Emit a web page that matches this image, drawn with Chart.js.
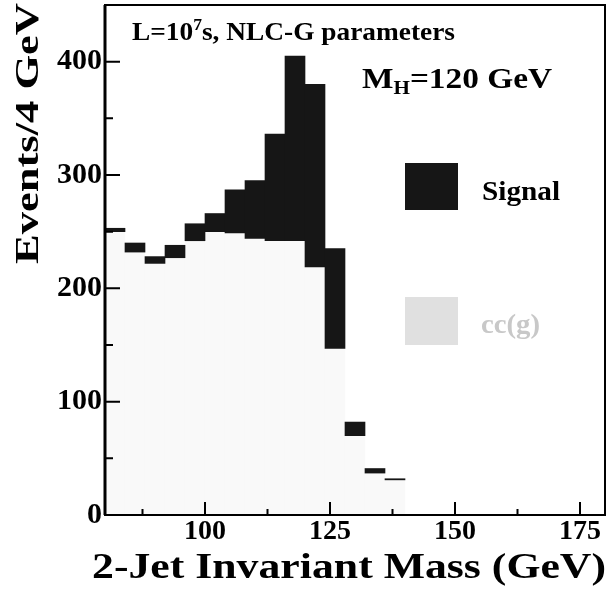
<!DOCTYPE html>
<html>
<head>
<meta charset="utf-8">
<script src="https://cdn.jsdelivr.net/npm/chart.js@4.4.1/dist/chart.umd.min.js"></script>
<style>
    html, body { margin: 0; padding: 0; background: #fff; }
    #wrap { width: 608px; height: 595px; }
</style>
</head>
<body>
<div id="wrap"><canvas id="massChart"></canvas></div>
<script>
// 4 GeV bins, centres in GeV
const bin_centres = [82, 86, 90, 94, 98, 102, 106, 110, 114, 118, 122, 126, 130, 134, 138];
const ccg_counts = [250, 232, 222, 227, 242, 250, 249, 244, 242, 242, 219, 147, 70, 37, 31];
const signal_counts = [3, 8, 6, 11, 15, 16, 38, 51, 94, 163, 161, 88, 12, 4, 1];
const x_major = [100, 125, 150, 175];
const x_minor = [87.5, 112.5, 137.5, 162.5];
const y_major = [0, 100, 200, 300, 400];
const y_minor = [50, 150, 250, 350];

const serif = "'Liberation Serif', 'DejaVu Serif', serif";

// draws a run of text pieces squeezed/stretched to a given width
function draw_fitted(ctx, parts, x, y, width, color) {
    let total = 0;
    parts.forEach(p => { ctx.font = p.font; p.w = ctx.measureText(p.t).width; total += p.w; });
    let sx = width / total;
    ctx.save();
    ctx.translate(x, y);
    ctx.scale(sx, 1);
    ctx.fillStyle = color;
    ctx.textBaseline = 'alphabetic';
    ctx.textAlign = 'left';
    let cx = 0;
    parts.forEach(p => { ctx.font = p.font; ctx.fillText(p.t, cx, p.dy || 0); cx += p.w; });
    ctx.restore();
}

const framePlugin = {
    id: 'frame',
    afterDraw(chart) {
        const ctx = chart.ctx;
        const a = chart.chartArea;
        const xs = chart.scales.x, ys = chart.scales.y;
        ctx.save();
        ctx.strokeStyle = '#000';
        // frame
        ctx.lineWidth = 2;
        ctx.strokeRect(a.left, a.top, a.right - a.left, a.bottom - a.top);
        ctx.lineWidth = 3;
        ctx.beginPath();
        ctx.moveTo(a.left, a.top);
        ctx.lineTo(a.left, a.bottom);
        ctx.stroke();
        // inward ticks
        ctx.lineWidth = 2;
        ctx.beginPath();
        y_major.forEach(v => { let p = ys.getPixelForValue(v); ctx.moveTo(a.left, p); ctx.lineTo(a.left + 15, p); });
        y_minor.forEach(v => { let p = ys.getPixelForValue(v); ctx.moveTo(a.left, p); ctx.lineTo(a.left + 8, p); });
        x_major.forEach(v => { let p = xs.getPixelForValue(v); ctx.moveTo(p, a.bottom); ctx.lineTo(p, a.bottom - 13); });
        x_minor.forEach(v => { let p = xs.getPixelForValue(v); ctx.moveTo(p, a.bottom); ctx.lineTo(p, a.bottom - 6); });
        ctx.stroke();
        ctx.restore();

        // axis titles
        draw_fitted(ctx, [{ t: '2-Jet Invariant Mass (GeV)', font: `bold 35px ${serif}` }], 92, 578, 514, '#000');
        ctx.save();
        ctx.translate(38, 264);
        ctx.rotate(-Math.PI / 2);
        draw_fitted(ctx, [{ t: 'Events/4 GeV', font: `bold 34px ${serif}` }], 0, 0, 261, '#000');
        ctx.restore();

        // labels in the plot
        draw_fitted(ctx, [
            { t: 'L=10', font: `bold 25px ${serif}` },
            { t: '7', font: `bold 16px ${serif}`, dy: -10 },
            { t: 's, NLC-G parameters', font: `bold 25px ${serif}` }
        ], 132, 40, 323, '#000');
        draw_fitted(ctx, [
            { t: 'M', font: `bold 30px ${serif}` },
            { t: 'H', font: `bold 19px ${serif}`, dy: 6 },
            { t: '=120 GeV', font: `bold 30px ${serif}` }
        ], 362, 88, 190, '#000');

        // legend
        ctx.fillStyle = '#161616';
        ctx.fillRect(405, 163, 53, 47);
        ctx.fillStyle = '#e0e0e0';
        ctx.fillRect(405, 297, 53, 48);
        draw_fitted(ctx, [{ t: 'Signal', font: `bold 27px ${serif}` }], 482, 200, 78, '#000');
        draw_fitted(ctx, [{ t: 'cc(g)', font: `bold 27px ${serif}` }], 481, 333, 59, '#c8c8c8');
    }
};

const ctx = document.getElementById('massChart');
const chart = new Chart(ctx, {
    type: 'bar',
    data: {
        datasets: [
            {
                label: 'cc(g)',
                data: bin_centres.map((x, i) => ({ x: x, y: ccg_counts[i] })),
                backgroundColor: 'rgba(0,0,0,0.025)',
                borderWidth: 0,
                barPercentage: 1,
                categoryPercentage: 1
            },
            {
                label: 'Signal',
                data: bin_centres.map((x, i) => ({ x: x, y: signal_counts[i] })),
                backgroundColor: '#161616',
                borderWidth: 0,
                barPercentage: 1,
                categoryPercentage: 1
            }
        ]
    },
    options: {
        animation: false,
        responsive: true,
        maintainAspectRatio: false,
        layout: { padding: { top: 5, right: 3, left: 0, bottom: 0 } },
        scales: {
            x: {
                type: 'linear',
                stacked: true,
                offset: false,
                min: 80,
                max: 180,
                grid: { display: false, drawTicks: false },
                border: { display: false },
                afterFit: (s) => { s.height = 80; s.paddingLeft = 0; s.paddingRight = 0; },
                afterBuildTicks: (s) => { s.ticks = x_major.map(v => ({ value: v })); },
                ticks: {
                    autoSkip: false,
                    maxRotation: 0,
                    minRotation: 0,
                    padding: 0,
                    color: '#000',
                    font: { family: serif, size: 28, weight: 'bold' }
                }
            },
            y: {
                stacked: true,
                min: 0,
                max: 450,
                grid: { display: false, drawTicks: false },
                border: { display: false },
                afterFit: (s) => { s.width = 105; s.paddingTop = 0; s.paddingBottom = 0; },
                afterBuildTicks: (s) => { s.ticks = y_major.map(v => ({ value: v })); },
                ticks: {
                    padding: 3,
                    color: '#000',
                    font: { family: serif, size: 30, weight: 'bold' }
                }
            }
        },
        plugins: {
            legend: { display: false },
            tooltip: { enabled: false }
        }
    },
    plugins: [framePlugin]
});
</script>
</body>
</html>
